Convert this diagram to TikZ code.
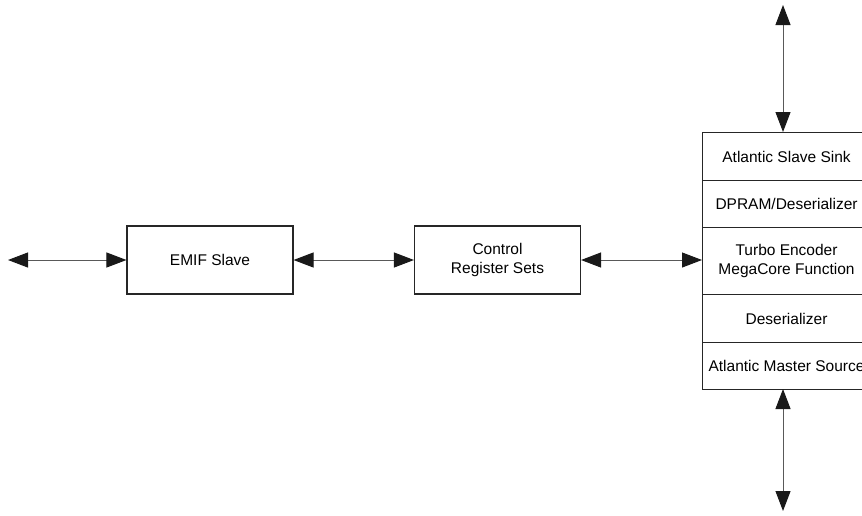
\documentclass[tikz,border=0pt]{standalone}
\usepackage{fontspec}
\setmainfont{Liberation Sans}
\usetikzlibrary{arrows.meta}
\begin{document}
\begin{tikzpicture}[x=1pt,y=-1pt,
  blk/.style={draw=black!85, line width=1.1pt, rectangle, inner sep=0pt, align=center,
    font=\fontsize{15.5}{19}\selectfont},
  cell/.style={blk, minimum width=168pt, anchor=north west},
  conn/.style={draw=black!65, line width=1pt,
    {Triangle[length=20pt,width=15pt,fill=black!90,color=black!90]}-{Triangle[length=20pt,width=15pt,fill=black!90,color=black!90]}}]
\useasboundingbox (0,0) rectangle (862,515);
\clip (0,0) rectangle (862,515);
% left boxes
\node[blk, minimum width=166pt, minimum height=68pt] (emif) at (210,260) {EMIF Slave};
\node[blk, minimum width=166pt, minimum height=68pt] (ctrl) at (497.5,260) {Control\\Register Sets};
% stack
\node[cell, minimum height=48pt] (sink) at (702,132) {Atlantic Slave Sink};
\node[cell, minimum height=47pt] (dpram) at (702,180) {DPRAM/Deserializer};
\node[cell, minimum height=67pt] (turbo) at (702,227) {Turbo Encoder\\MegaCore Function};
\node[cell, minimum height=48pt] (deser) at (702,294) {Deserializer};
\node[cell, minimum height=47pt] (master) at (702,342) {Atlantic Master Source};
% free ends
\coordinate (lft) at (8,260);
\coordinate (topend) at (783,5);
\coordinate (botend) at (783,511);
\coordinate (tophit) at (783,132);
\coordinate (bothit) at (783,389);
% connectors
\draw[conn] (lft) -- (emif.west);
\draw[conn] (emif.east) -- (ctrl.west);
\draw[conn] (ctrl.east) -- (ctrl.east -| turbo.west);
\draw[conn] (topend) -- (tophit);
\draw[conn] (bothit) -- (botend);
\end{tikzpicture}
\end{document}
